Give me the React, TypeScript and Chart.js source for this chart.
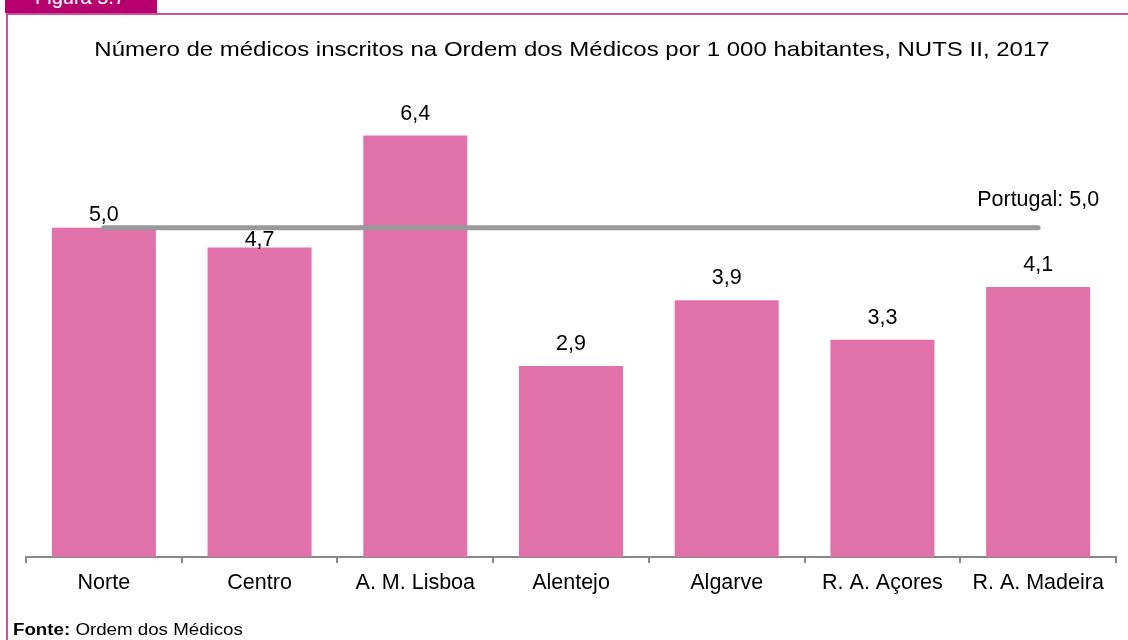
import React, { useEffect, useRef } from "react";
import { Chart, registerables } from "chart.js";

Chart.register(...registerables);

const categories = ["Norte", "Centro", "A. M. Lisboa", "Alentejo", "Algarve", "R. A. Açores", "R. A. Madeira"];
const values = [5.0, 4.7, 6.4, 2.9, 3.9, 3.3, 4.1];
const portugalValue = 5.0;
const portugalSeries = categories.map(() => portugalValue);
const titleText = "Número de médicos inscritos na Ordem dos Médicos por 1 000 habitantes, NUTS II, 2017";

const FONT = "'Liberation Sans', Arial, sans-serif";
const fmt = (v: number) => v.toFixed(1).replace(".", ",");

const labelPlugin = {
  id: "barLabels",
  afterDatasetsDraw(chart: any, _args: any, opts: any) {
    const ctx = chart.ctx;
    ctx.save();
    ctx.font = `21.5px ${FONT}`;
    ctx.fillStyle = "#000";
    ctx.textAlign = "center";
    ctx.textBaseline = "alphabetic";
    const barMeta = chart.getDatasetMeta(0);
    const offsets: number[] = opts.offsets || [];
    barMeta.data.forEach((el: any, i: number) => {
      const off = offsets[i] ?? 16;
      ctx.fillText(fmt(values[i]), el.x, el.y - off);
    });
    const lineMeta = chart.getDatasetMeta(1);
    const last = lineMeta.data[lineMeta.data.length - 1];
    if (last) {
      ctx.fillText(`Portugal: ${fmt(portugalValue)}`, last.x, last.y - 22);
    }
    ctx.restore();
  },
};

export default function App() {
  const ref = useRef<HTMLCanvasElement>(null);
  useEffect(() => {
    if (!ref.current) return;
    const chart = new Chart(ref.current, {
      data: {
        labels: categories,
        datasets: [
          {
            type: "bar",
            data: values,
            backgroundColor: "#E171A9",
            borderWidth: 0,
            categoryPercentage: 1,
            barPercentage: 0.668,
            order: 1,
          } as any,
          {
            type: "line",
            data: portugalSeries,
            borderColor: "#999999",
            borderWidth: 5,
            borderCapStyle: "round",
            pointRadius: 0,
            fill: false,
            order: 0,
          } as any,
        ],
      },
      options: {
        responsive: false,
        animation: false,
        devicePixelRatio: 1,
        layout: { padding: { left: 26, right: 12, top: 96, bottom: 0 } },
        plugins: {
          legend: { display: false },
          tooltip: { enabled: false },
          title: { display: false },
          barLabels: { offsets: [7, 1.5, 16, 16, 16, 16, 16] },
        } as any,
        scales: {
          x: {
            offset: true,
            grid: {
              display: true,
              offset: true,
              drawOnChartArea: false,
              drawTicks: true,
              tickLength: 6,
              color: "#888888",
              lineWidth: 2,
            },
            border: { display: true, color: "#888888", width: 2 },
            ticks: {
              color: "#000",
              font: { family: FONT, size: 21.5 },
              padding: 7,
              maxRotation: 0,
              autoSkip: false,
            },
            afterFit: (scale: any) => {
              scale.height = 83;
            },
          },
          y: {
            display: false,
            min: 0,
            max: 7,
          },
        },
      },
      plugins: [labelPlugin],
    });
    return () => chart.destroy();
  }, []);

  return (
    <div
      style={{
        position: "absolute",
        left: 0,
        top: 0,
        width: 1128,
        height: 640,
        background: "#fff",
        overflow: "hidden",
        fontFamily: FONT,
      }}
    >
      <div
        style={{
          position: "absolute",
          left: 5,
          top: 0,
          width: 152,
          height: 13,
          background: "#B5006E",
          overflow: "hidden",
        }}
      >
        <div
          style={{
            position: "absolute",
            left: 30,
            top: -13,
            color: "#fff",
            fontSize: 20,
            lineHeight: "20px",
            whiteSpace: "nowrap",
          }}
        >
          Figura 5.7
        </div>
      </div>
      <div
        style={{
          position: "absolute",
          left: 6,
          top: 13,
          right: 0,
          bottom: 0,
          borderTop: "2px solid #CC4F9A",
          borderLeft: "2px solid #CC4F9A",
        }}
      />
      <canvas ref={ref} width={1128} height={640} style={{ position: "absolute", left: 0, top: 0 }} />
      <div
        style={{
          position: "absolute",
          left: 0,
          width: 1144,
          top: 38,
          textAlign: "center",
          fontSize: 21,
          lineHeight: "21px",
          color: "#000",
          whiteSpace: "nowrap",
          transform: "scaleX(1.143)",
          transformOrigin: "572px 0",
        }}
      >
        {titleText}
      </div>
      <div
        style={{
          position: "absolute",
          left: 13,
          top: 622,
          fontSize: 16,
          lineHeight: "16px",
          color: "#000",
          whiteSpace: "nowrap",
          transform: "scaleX(1.17)",
          transformOrigin: "0 0",
        }}
      >
        <b>Fonte:</b> Ordem dos Médicos
      </div>
    </div>
  );
}
